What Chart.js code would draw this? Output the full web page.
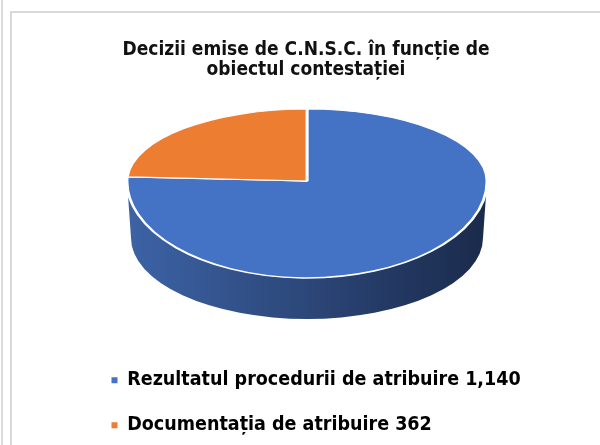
<!DOCTYPE html>
<html>
<head>
<meta charset="utf-8">
<script src="https://cdn.jsdelivr.net/npm/chart.js@4"></script>
<style>
  body { margin: 0; background: #fff; }
  #wrap { position: relative; width: 600px; height: 445px; overflow: hidden; }
  #outerLine { position: absolute; left: 1px; top: 0; width: 2px; height: 445px; background: #dcdcdc; }
  #frame { position: absolute; left: 10px; top: 11px; width: 600px; height: 500px;
           border-left: 2px solid #d9d9d9; border-top: 2px solid #d9d9d9; }
  canvas { position: absolute; left: 0; top: 0; }
</style>
</head>
<body>
<div id="wrap">
  <div id="outerLine"></div>
  <div id="frame"></div>
  <canvas id="pieChart" width="600" height="445"></canvas>
</div>
<script>
// data
var categories = ['Rezultatul procedurii de atribuire', 'Documentația de atribuire'];
var values = [1140, 362];
var titleLines = ['Decizii emise de C.N.S.C. în funcție de', 'obiectul contestației'];

var topColors = ['#4472c4', '#ed7d31'];
var sideColors = [['#3d63a6', '#1a2a4b'], ['#b85f22', '#6b3612']];

// fake perspective of the 3d pie (screen pixels): far half flatter than near half
var CX = 307, CY = 181, RX = 180, RY_FAR = 72, RY_NEAR = 97;
var BOTTOM_CY = 238, BOTTOM_RX = 176, BOTTOM_RY = 81;

function squash(c, arc, ry) {
    c.translate(CX, CY);
    c.scale(RX / arc.outerRadius, ry / arc.outerRadius);
    c.translate(-arc.x, -arc.y);
}

var fakeThreeD = {
    id: 'fakeThreeD',
    beforeDatasetsDraw: function(chart) {
        var c = chart.ctx;
        var arcs = chart.getDatasetMeta(0).data;
        // side walls first, only the near half shows
        arcs.forEach(function(arc, i) {
            var s = arc.startAngle, e = arc.endAngle;
            [[0, Math.PI], [2 * Math.PI, 3 * Math.PI], [-2 * Math.PI, -Math.PI]].forEach(function(rng) {
                var a0 = Math.max(s, rng[0]), a1 = Math.min(e, rng[1]);
                if (a1 <= a0) return;
                var g = c.createLinearGradient(CX - RX, 0, CX + RX, 0);
                g.addColorStop(0, sideColors[i][0]);
                g.addColorStop(1, sideColors[i][1]);
                c.beginPath();
                c.ellipse(CX, CY, RX, RY_NEAR, 0, a0, a1, false);
                c.ellipse(CX, BOTTOM_CY, BOTTOM_RX, BOTTOM_RY, 0, a1, a0, true);
                c.closePath();
                c.fillStyle = g;
                c.fill();
            });
        });
        // far half of the top face
        c.save();
        c.beginPath();
        c.rect(0, 0, chart.width, CY);
        c.clip();
        squash(c, arcs[0], RY_FAR);
    },
    afterDatasetsDraw: function(chart) {
        var c = chart.ctx;
        c.restore();
        // near half of the top face, same arcs drawn again
        c.save();
        c.beginPath();
        c.rect(0, CY, chart.width, chart.height - CY);
        c.clip();
        squash(c, chart.getDatasetMeta(0).data[0], RY_NEAR);
        chart.getDatasetMeta(0).controller.draw();
        c.restore();
    }
};

var ctx = document.getElementById('pieChart').getContext('2d');
var pieChart = new Chart(ctx, {
    type: 'pie',
    data: {
        labels: categories,
        datasets: [{
            data: values,
            backgroundColor: topColors,
            borderColor: '#ffffff',
            borderWidth: 2
        }]
    },
    options: {
        responsive: false,
        animation: false,
        layout: { padding: { top: 40, left: 86, right: 74, bottom: 0 } },
        plugins: {
            title: {
                display: true,
                text: titleLines,
                color: '#111111',
                font: { family: '"DejaVu Sans Condensed", "DejaVu Sans", sans-serif', size: 19, weight: 'bold', lineHeight: 1.05 },
                padding: { top: 0, bottom: 10 }
            },
            legend: {
                position: 'bottom',
                align: 'start',
                labels: {
                    color: '#111111',
                    font: { family: '"DejaVu Sans Condensed", "DejaVu Sans", sans-serif', size: 19.5, weight: 'bold' },
                    boxWidth: 6,
                    boxHeight: 6,
                    padding: 25.5,
                    generateLabels: function(chart) {
                        return categories.map(function(name, i) {
                            return {
                                text: name + ' ' + values[i].toLocaleString('en-US'),
                                fillStyle: topColors[i],
                                strokeStyle: topColors[i],
                                lineWidth: 0,
                                hidden: false,
                                index: i,
                                datasetIndex: 0
                            };
                        });
                    }
                }
            },
            tooltip: { enabled: false }
        }
    },
    plugins: [fakeThreeD]
});
</script>
</body>
</html>
